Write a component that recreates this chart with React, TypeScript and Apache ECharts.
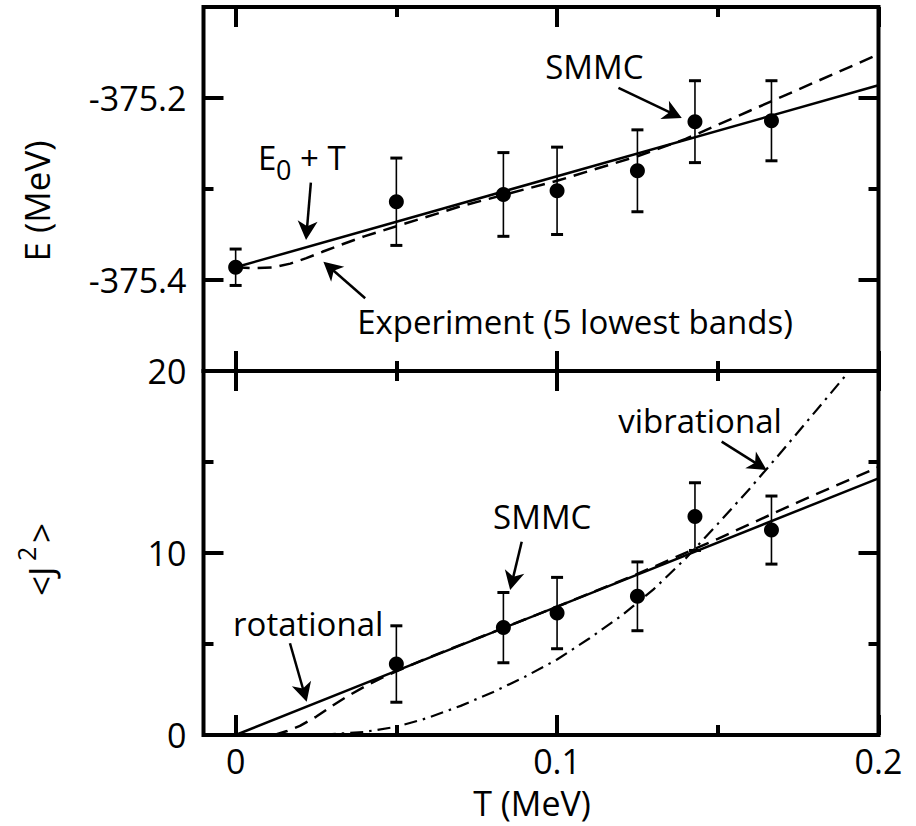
import React, { useEffect, useRef } from 'react';
import * as echarts from 'echarts';

// ---------- data ----------
const T_SMMC = [0, 0.05, 0.0833, 0.1, 0.125, 0.1429, 0.1667];
const E_SMMC = [-375.386, -375.314, -375.306, -375.302, -375.28, -375.226, -375.225];
const E_ERR = [0.02, 0.048, 0.046, 0.048, 0.045, 0.045, 0.044];

const E0T_T = [0, 0.2];
const E0T_E = [-375.386, -375.186];

const EXP_T = [0, 0.006, 0.012, 0.017, 0.022, 0.027, 0.033, 0.04, 0.05, 0.07, 0.1, 0.125, 0.14, 0.16, 0.18, 0.2];
const EXP_E = [-375.386, -375.387, -375.386, -375.382, -375.376, -375.369, -375.361, -375.352, -375.341, -375.319, -375.291, -375.264, -375.245, -375.214, -375.183, -375.152];

const J_T = [0.05, 0.0833, 0.1, 0.125, 0.1429, 0.1667];
const J_SMMC = [3.9, 5.9, 6.7, 7.62, 12.0, 11.26];
const J_ERR = [2.1, 1.93, 1.96, 1.89, 1.86, 1.87];

const ROT_T = [0, 0.2];
const ROT_J = [0, 14.1];

const FIT_T = [0.012, 0.016, 0.02, 0.025, 0.03, 0.035, 0.04, 0.045, 0.05, 0.06, 0.07, 0.1, 0.125, 0.15, 0.175, 0.2];
const FIT_J = [0, 0.22, 0.5, 1.0, 1.6, 2.15, 2.65, 3.1, 3.5, 4.25, 4.95, 7.05, 8.85, 10.78, 12.8, 14.72];

const VIB_T = [0.01, 0.03, 0.04, 0.05, 0.06, 0.07, 0.08, 0.09, 0.1, 0.11, 0.12, 0.13, 0.14, 0.15, 0.16, 0.17, 0.18, 0.19, 0.195];
const VIB_J = [0, 0.05, 0.17, 0.45, 0.95, 1.6, 2.35, 3.2, 4.15, 5.3, 6.55, 8.0, 9.7, 11.6, 13.55, 15.6, 17.7, 19.8, 20.85];

// axes / ticks
const X_MIN = -0.01;
const X_MAX = 0.2;
const X_MAJOR = [0, 0.1, 0.2];
const X_MINOR = [0.05, 0.15];
const X_LABELS = [0, 0.1, 0.2];

const E_MIN = -375.5;
const E_MAX = -375.1;
const E_MAJOR = [-375.4, -375.2];
const E_MINOR = [-375.3];
const E_LABELS = [-375.4, -375.2];

const J_MIN = 0;
const J_MAX = 20;
const J_MAJOR = [0, 10, 20];
const J_MINOR = [5, 15];
const J_LABELS = [0, 10, 20];

// annotations (data coordinates)
const TOP_NOTES = ['SMMC', 'Experiment (5 lowest bands)'];
const TOP_NOTE_POS = [[0.0963, -375.165], [0.0378, -375.4456]];
const E0T_NOTE_POS = [[0.00697, -375.265]];
const TOP_ARROWS = [
  [0.0234, -375.293, 0.0219, -375.356],
  [0.0403, -375.42, 0.0273, -375.38],
  [0.1191, -375.189, 0.1388, -375.222],
];
const BOTTOM_NOTES = ['SMMC', 'rotational', 'vibrational'];
const BOTTOM_NOTE_POS = [[0.0801, 12.03], [-0.0008, 6.1], [0.119, 17.3]];
const BOTTOM_ARROWS = [
  [0.089, 10.62, 0.0854, 7.97],
  [0.0169, 5.04, 0.0221, 1.83],
  [0.1512, 16.12, 0.1652, 14.56],
];

// ---------- helpers ----------
const FONT = '"Open Sans", "Noto Sans", sans-serif';
const BLACK = '#000';
const zip = (a: number[], b: number[]) => a.map((v, i) => [v, b[i]]);

function tickAxis(kind: 'x' | 'y', grid: number, position: string, min: number, max: number, ticks: number[], len: number, labels?: number[], fmt?: (v: number) => string) {
  const ax: any = {
    type: 'value',
    gridIndex: grid,
    position,
    min,
    max,
    axisLine: { show: false, onZero: false },
    splitLine: { show: false },
    axisTick: { show: true, inside: true, length: len, customValues: ticks, lineStyle: { color: BLACK, width: 4 } },
    axisLabel: { show: false },
  };
  if (labels) {
    ax.axisLabel = {
      show: true,
      customValues: labels,
      showMinLabel: true,
      showMaxLabel: true,
      color: BLACK,
      fontSize: 34,
      fontFamily: FONT,
      margin: kind === 'x' ? 9 : 17,
      formatter: fmt,
    };
  }
  return ax;
}

function errorSeries(xi: number, yi: number, xs: number[], ys: number[], errs: number[]) {
  return {
    type: 'custom',
    xAxisIndex: xi,
    yAxisIndex: yi,
    z: 3,
    silent: true,
    data: xs.map((x, i) => [x, ys[i] - errs[i], ys[i] + errs[i]]),
    renderItem: (_p: any, api: any) => {
      const x = api.value(0);
      const lo = api.coord([x, api.value(1)]);
      const hi = api.coord([x, api.value(2)]);
      const cap = 6;
      const st = { stroke: BLACK, lineWidth: 1.6 };
      const cs = { stroke: BLACK, lineWidth: 3 };
      return {
        type: 'group',
        children: [
          { type: 'line', shape: { x1: lo[0], y1: lo[1], x2: hi[0], y2: hi[1] }, style: st },
          { type: 'line', shape: { x1: lo[0] - cap, y1: lo[1], x2: lo[0] + cap, y2: lo[1] }, style: cs },
          { type: 'line', shape: { x1: hi[0] - cap, y1: hi[1], x2: hi[0] + cap, y2: hi[1] }, style: cs },
        ],
      };
    },
  };
}

function arrowSeries(xi: number, yi: number, arrows: number[][]) {
  return {
    type: 'custom',
    xAxisIndex: xi,
    yAxisIndex: yi,
    z: 6,
    silent: true,
    clip: false,
    data: arrows,
    renderItem: (_p: any, api: any) => {
      const a = api.coord([api.value(0), api.value(1)]);
      const b = api.coord([api.value(2), api.value(3)]);
      const dx = b[0] - a[0];
      const dy = b[1] - a[1];
      const len = Math.hypot(dx, dy) || 1;
      const ux = dx / len;
      const uy = dy / len;
      const px = -uy;
      const py = ux;
      const L = 19;
      const W = 10;
      const bx = b[0] - ux * L;
      const by = b[1] - uy * L;
      return {
        type: 'group',
        children: [
          {
            type: 'line',
            shape: { x1: a[0], y1: a[1], x2: b[0] - ux * L * 0.6, y2: b[1] - uy * L * 0.6 },
            style: { stroke: BLACK, lineWidth: 2.5 },
          },
          {
            type: 'polygon',
            shape: {
              points: [
                [b[0], b[1]],
                [bx + px * W, by + py * W],
                [b[0] - ux * L * 0.72, b[1] - uy * L * 0.72],
                [bx - px * W, by - py * W],
              ],
            },
            style: { fill: BLACK },
          },
        ],
      };
    },
  };
}

function noteSeries(xi: number, yi: number, names: string[], pos: number[][]) {
  return {
    type: 'custom',
    xAxisIndex: xi,
    yAxisIndex: yi,
    z: 7,
    silent: true,
    clip: false,
    data: pos,
    renderItem: (params: any, api: any) => {
      const p = api.coord([api.value(0), api.value(1)]);
      return {
        type: 'text',
        x: p[0],
        y: p[1],
        style: { text: names[params.dataIndex], fontSize: 33, fontFamily: FONT, fill: BLACK, align: 'left', verticalAlign: 'middle' },
      };
    },
  };
}

function e0tSeries(xi: number, yi: number) {
  return {
    type: 'custom',
    xAxisIndex: xi,
    yAxisIndex: yi,
    z: 7,
    silent: true,
    clip: false,
    data: E0T_NOTE_POS,
    renderItem: (_p: any, api: any) => {
      const p = api.coord([api.value(0), api.value(1)]);
      const base = { fontFamily: FONT, fill: BLACK, align: 'left', verticalAlign: 'middle' };
      return {
        type: 'group',
        x: p[0],
        y: p[1],
        children: [
          { type: 'text', x: 0, y: 0, style: { ...base, text: 'E', fontSize: 33 } },
          { type: 'text', x: 18, y: 12, style: { ...base, text: '0', fontSize: 27 } },
          { type: 'text', x: 42, y: 0, style: { ...base, text: '+ T', fontSize: 33 } },
        ],
      };
    },
  };
}

function lineSeries(xi: number, yi: number, data: number[][], type: any, width = 2.5) {
  return {
    type: 'line',
    xAxisIndex: xi,
    yAxisIndex: yi,
    data,
    symbol: 'none',
    showSymbol: false,
    smooth: false,
    clip: true,
    z: 2,
    silent: true,
    lineStyle: { color: BLACK, width, type },
  };
}

function scatterSeries(xi: number, yi: number, data: number[][]) {
  return {
    type: 'scatter',
    xAxisIndex: xi,
    yAxisIndex: yi,
    data,
    symbol: 'circle',
    symbolSize: 15,
    z: 5,
    silent: true,
    itemStyle: { color: BLACK, opacity: 1 },
  };
}

const fmtX = (v: number) => (Math.abs(v) < 1e-9 ? '0' : String(Math.round(v * 10) / 10));
const fmtE = (v: number) => v.toFixed(1);
const fmtJ = (v: number) => String(Math.round(v));

export default function App() {
  const ref = useRef<HTMLDivElement>(null);

  useEffect(() => {
    if (!ref.current) return;
    const chart = echarts.init(ref.current, undefined, { renderer: 'svg' });

    const gridBase = { left: 203.5, width: 675, height: 364, show: true, borderColor: BLACK, borderWidth: 4, backgroundColor: 'transparent' };

    const xAxis = [
      tickAxis('x', 0, 'bottom', X_MIN, X_MAX, X_MAJOR, 20),
      tickAxis('x', 0, 'bottom', X_MIN, X_MAX, X_MINOR, 10),
      tickAxis('x', 0, 'top', X_MIN, X_MAX, X_MAJOR, 20),
      tickAxis('x', 0, 'top', X_MIN, X_MAX, X_MINOR, 10),
      tickAxis('x', 1, 'bottom', X_MIN, X_MAX, X_MAJOR, 20, X_LABELS, fmtX),
      tickAxis('x', 1, 'bottom', X_MIN, X_MAX, X_MINOR, 10),
      tickAxis('x', 1, 'top', X_MIN, X_MAX, X_MAJOR, 20),
      tickAxis('x', 1, 'top', X_MIN, X_MAX, X_MINOR, 10),
    ];
    const yAxis = [
      tickAxis('y', 0, 'left', E_MIN, E_MAX, E_MAJOR, 20, E_LABELS, fmtE),
      tickAxis('y', 0, 'left', E_MIN, E_MAX, E_MINOR, 10),
      tickAxis('y', 0, 'right', E_MIN, E_MAX, E_MAJOR, 20),
      tickAxis('y', 0, 'right', E_MIN, E_MAX, E_MINOR, 10),
      tickAxis('y', 1, 'left', J_MIN, J_MAX, J_MAJOR, 20, J_LABELS, fmtJ),
      tickAxis('y', 1, 'left', J_MIN, J_MAX, J_MINOR, 10),
      tickAxis('y', 1, 'right', J_MIN, J_MAX, J_MAJOR, 20),
      tickAxis('y', 1, 'right', J_MIN, J_MAX, J_MINOR, 10),
    ];

    const titleStyle = { fontFamily: FONT, fill: BLACK, align: 'center', verticalAlign: 'middle' };

    chart.setOption({
      animation: false,
      backgroundColor: '#fff',
      grid: [
        { ...gridBase, top: 7 },
        { ...gridBase, top: 371 },
      ],
      xAxis,
      yAxis,
      series: [
        lineSeries(0, 0, zip(E0T_T, E0T_E), 'solid'),
        lineSeries(0, 0, zip(EXP_T, EXP_E), [14, 8]),
        errorSeries(0, 0, T_SMMC, E_SMMC, E_ERR),
        scatterSeries(0, 0, zip(T_SMMC, E_SMMC)),
        arrowSeries(0, 0, TOP_ARROWS),
        noteSeries(0, 0, TOP_NOTES, TOP_NOTE_POS),
        e0tSeries(0, 0),

        lineSeries(4, 4, zip(ROT_T, ROT_J), 'solid'),
        lineSeries(4, 4, zip(FIT_T, FIT_J), [14, 8]),
        lineSeries(4, 4, zip(VIB_T, VIB_J), [13, 6, 2.5, 6], 2.2),
        errorSeries(4, 4, J_T, J_SMMC, J_ERR),
        scatterSeries(4, 4, zip(J_T, J_SMMC)),
        arrowSeries(4, 4, BOTTOM_ARROWS),
        noteSeries(4, 4, BOTTOM_NOTES, BOTTOM_NOTE_POS),
      ],
      graphic: [
        { type: 'text', x: 36, y: 201, rotation: Math.PI / 2, style: { ...titleStyle, text: 'E (MeV)', fontSize: 35 } },
        {
          type: 'group',
          x: 40,
          y: 556,
          rotation: Math.PI / 2,
          children: [
            { type: 'text', x: -40, y: 0, style: { ...titleStyle, align: 'left', text: '<J', fontSize: 35 } },
            { type: 'text', x: -5, y: -14, style: { ...titleStyle, align: 'left', text: '2', fontSize: 25 } },
            { type: 'text', x: 13, y: 0, style: { ...titleStyle, align: 'left', text: '>', fontSize: 35 } },
          ],
        },
        { type: 'text', x: 532, y: 803, style: { ...titleStyle, text: 'T (MeV)', fontSize: 34 } },
      ],
    });

    return () => chart.dispose();
  }, []);

  return <div ref={ref} style={{ position: 'absolute', left: 0, top: 0, width: 916, height: 826 }} />;
}
